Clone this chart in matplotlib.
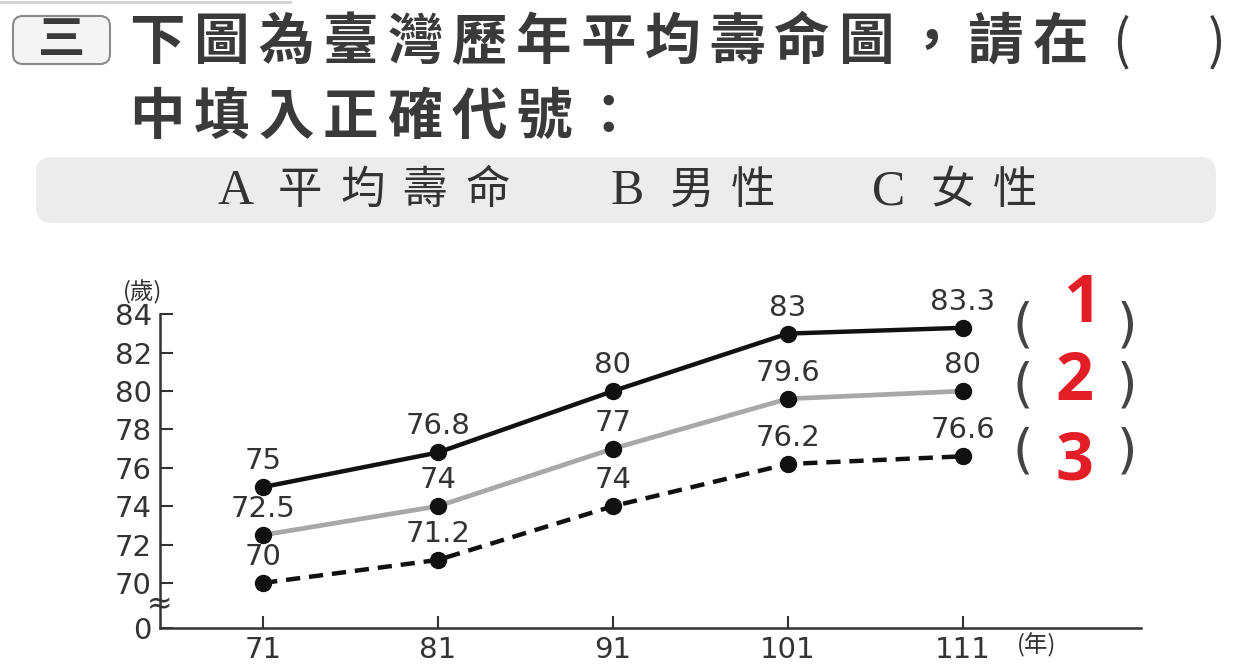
import numpy as np
import matplotlib.pyplot as plt
from matplotlib.patches import FancyBboxPatch

## fonts: CJK first for the Chinese text, DejaVu for numbers
CJK = ['Noto Sans CJK TC', 'DejaVu Sans']
plt.rcParams['font.family'] = ['DejaVu Sans', 'Noto Sans CJK TC']

## data
years = [71, 81, 91, 101, 111]
line1_vals = [75, 76.8, 80, 83, 83.3]      # top, black solid
line2_vals = [72.5, 74, 77, 79.6, 80]      # middle, gray solid
line3_vals = [70, 71.2, 74, 76.2, 76.6]    # bottom, black dashed
ytick_vals = [70, 72, 74, 76, 78, 80, 82, 84]
xtick_labels = ['71', '81', '91', '101', '111']
answers = ['1', '2', '3']

title_line1 = '下圖為臺灣歷年平均壽命圖，請在'
title_line2 = '中填入正確代號：'
options = [('A', '平均壽命'), ('B', '男性'), ('C', '女性')]

fig = plt.figure(figsize=(12.47, 6.7), dpi=100)

## background axes in pixel coordinates for the header parts
bg = fig.add_axes([0, 0, 1, 1])
bg.set_xlim(0, 1247)
bg.set_ylim(670, 0)
bg.axis('off')

def spaced(x, y, s, step, **kw):
    ## put each character on its own, the picture has wide letter spacing
    for i, ch in enumerate(s):
        bg.text(x + i * step, y, ch, ha='center', va='center', **kw)

## faint line at the very top
bg.plot([0, 290], [1.5, 1.5], color='#d0d0d0', lw=2)

## "三" box
bg.add_patch(FancyBboxPatch((13, 16), 97, 48, boxstyle='round,pad=0,rounding_size=10',
                            fc='#f4f4f4', ec='#8a8a8a', lw=1.5))
bg.text(61, 40, '三', ha='center', va='center', fontsize=34, fontweight='bold',
        color='#3a3a3a', family=CJK)

## title lines
spaced(157, 43, title_line1, 64.5, fontsize=40, fontweight='bold', color='#3a3a3a', family=CJK)
bg.text(1121, 43, '(', ha='center', va='center', fontsize=38, color='#3a3a3a', family=CJK)
bg.text(1217, 43, ')', ha='center', va='center', fontsize=38, color='#3a3a3a', family=CJK)
spaced(157, 118, title_line2, 64.5, fontsize=40, fontweight='bold', color='#3a3a3a', family=CJK)

## options box
bg.add_patch(FancyBboxPatch((36, 157), 1180, 66, boxstyle='round,pad=0,rounding_size=16',
                            fc='#ececec', ec='none'))
opt_x = [236, 627, 889]
for (letter, word), x in zip(options, opt_x):
    bg.text(x, 192, letter, ha='center', va='center', fontsize=36, color='#333333',
            family=['Liberation Serif', 'DejaVu Serif'])
    spaced(x + 64, 190, word, 62.5, fontsize=32, color='#333333', family=CJK)

## chart
ax = fig.add_axes([160 / 1247, (670 - 628) / 670, (1141 - 160) / 1247, (628 - 300) / 670])
ax.patch.set_alpha(0)
y_zero = 67.65
ax.set_ylim(y_zero, 84.75)
ax.set_xlim(65.1, 121.2)

ax.plot(years, line1_vals, color='#111111', lw=3.2, marker='o', ms=11.5,
        mfc='#111111', mec='#111111', zorder=4)
ax.plot(years, line2_vals, color='#a8a8a8', lw=3.4, marker='o', ms=11.5,
        mfc='#111111', mec='#111111', zorder=3)
ax.plot(years, line3_vals, color='#111111', lw=3.2, ls=(0, (3.2, 2.0)), marker='o', ms=11.5,
        mfc='#111111', mec='#111111', zorder=3)

for vals in [line1_vals, line2_vals, line3_vals]:
    for x, v in zip(years, vals):
        ax.annotate(f'{v:g}', (x, v), xytext=(0, 26), textcoords='offset pixels',
                    ha='center', va='center', fontsize=21, color='#333333')

for s in ['top', 'right']:
    ax.spines[s].set_visible(False)
for s in ['left', 'bottom']:
    ax.spines[s].set_color('#333333')
    ax.spines[s].set_linewidth(1.8)
ax.spines['left'].set_bounds(y_zero, 84)

ax.set_yticks([y_zero] + ytick_vals)
ax.set_yticklabels(['0'] + [str(v) for v in ytick_vals])
ax.set_xticks(years)
ax.set_xticklabels(xtick_labels)
ax.tick_params(direction='in', length=9, width=1.5, color='#333333',
               labelsize=21, labelcolor='#333333', pad=6)

## axis break mark
ax.text(0, 68.85, '≈', transform=ax.get_yaxis_transform(), ha='center', va='center',
        fontsize=22, color='#333333', zorder=6, clip_on=False)

## unit labels
bg.text(143, 292, '(歲)', ha='center', va='center', fontsize=17, color='#333333', family=CJK)
bg.text(1037, 645, '(年)', ha='center', va='center', fontsize=17, color='#333333', family=CJK)

## answer brackets on the right
paren_y = [327, 387, 453]
red_y = [305, 383, 462]
red_x = [1082, 1075, 1075]
for ans, py, ry, rx in zip(answers, paren_y, red_y, red_x):
    bg.text(1023, py, '(', ha='center', va='center', fontsize=38, color='#444444',
            family=['DejaVu Sans'])
    bg.text(1127, py, ')', ha='center', va='center', fontsize=38, color='#444444',
            family=['DejaVu Sans'])
    bg.text(rx, ry, ans, ha='center', va='center', fontsize=48, fontweight='bold',
            color='#e41e26', family=['Open Sans', 'DejaVu Sans'])

fig.savefig('out.png', dpi=100)
